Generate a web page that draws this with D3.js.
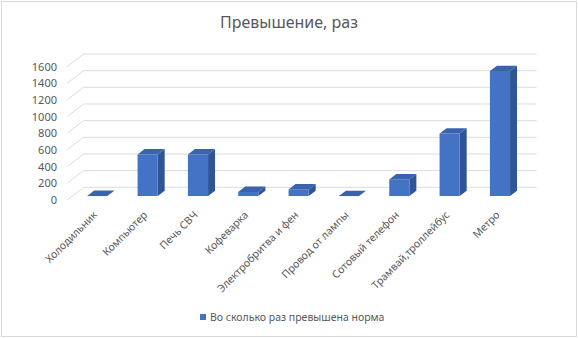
<!DOCTYPE html>
<html>
<head>
<meta charset="utf-8">
<script src="https://cdn.jsdelivr.net/npm/d3@7"></script>
<style>
  body { margin: 0; background: #fff; }
  text { font-family: "Noto Sans", "Open Sans", sans-serif; fill: #595959; }
</style>
</head>
<body>
<div id="chart"></div>
<script>
// data
const categories = ['Холодильник', 'Компьютер', 'Печь СВЧ', 'Кофеварка', 'Электробритва и фен',
    'Провод от лампы', 'Сотовый телефон', 'Трамвай,троллейбус', 'Метро'];
const values = [2, 500, 500, 50, 80, 1, 200, 750, 1500];
const yTicks = [0, 200, 400, 600, 800, 1000, 1200, 1400, 1600];
const seriesName = 'Во сколько раз превышена норма';
const title = 'Превышение, раз';

const W = 578, H = 338;

// depth vector from the front of the floor to the back wall
const depth = { dx: 16.6, dy: -12.7 };
const barFront = 0.31, barBack = 0.73;

const svg = d3.select('#chart').append('svg')
    .attr('width', W)
    .attr('height', H);

// chart border
svg.append('rect')
    .attr('x', 1.5).attr('y', 1.5)
    .attr('width', W - 3).attr('height', H - 3)
    .attr('fill', '#fff')
    .attr('stroke', '#d9d9d9');

const x = d3.scaleBand()
    .domain(categories)
    .range([67, 520])
    .paddingInner(0.6)
    .paddingOuter(0.3);

const y = d3.scaleLinear()
    .domain([0, 1600])
    .range([200, 66.7]);

// project a point (front-plane x, value, depth fraction z)
function proj(px, v, z) {
    return [px + z * depth.dx, y(v) + z * depth.dy];
}

// back wall + left wall gridlines
const grid = svg.append('g').attr('class', 'grid');
yTicks.forEach(t => {
    const a = proj(67, t, 0), b = proj(67, t, 1), c = proj(520, t, 1);
    grid.append('path')
        .attr('d', 'M' + a + 'L' + b + 'L' + c)
        .attr('fill', 'none')
        .attr('stroke', '#dcdcdc')
        .attr('stroke-width', 1);
});

// y tick labels
svg.append('g').selectAll('text')
    .data(yTicks)
    .enter().append('text')
    .attr('x', 57)
    .attr('y', d => y(d))
    .attr('dy', '0.35em')
    .attr('text-anchor', 'end')
    .style('font-size', '11px')
    .text(d => d);

// 3d bars
const bars = svg.append('g').attr('class', 'bars')
    .selectAll('g')
    .data(categories.map((c, i) => ({ key: c, value: values[i] })))
    .enter().append('g');

function poly(pts) {
    return 'M' + pts.map(p => p.join(',')).join('L') + 'Z';
}

bars.append('path') // side
    .attr('d', d => {
        const x1 = x(d.key) + x.bandwidth();
        return poly([proj(x1, 0, barFront), proj(x1, 0, barBack), proj(x1, d.value, barBack), proj(x1, d.value, barFront)]);
    })
    .attr('fill', '#2f5596');

bars.append('path') // front
    .attr('d', d => {
        const x0 = x(d.key), x1 = x0 + x.bandwidth();
        return poly([proj(x0, 0, barFront), proj(x1, 0, barFront), proj(x1, d.value, barFront), proj(x0, d.value, barFront)]);
    })
    .attr('fill', '#4472c4');

bars.append('path') // top
    .attr('d', d => {
        const x0 = x(d.key), x1 = x0 + x.bandwidth();
        return poly([proj(x0, d.value, barFront), proj(x1, d.value, barFront), proj(x1, d.value, barBack), proj(x0, d.value, barBack)]);
    })
    .attr('fill', '#3a63ad');

// x labels
svg.append('g').selectAll('text')
    .data(categories)
    .enter().append('text')
    .attr('transform', d => {
        const cx = x(d) + x.bandwidth() / 2 + 3;
        return 'translate(' + cx + ',' + 213 + ') rotate(-45)';
    })
    .attr('text-anchor', 'end')
    .attr('dy', '0.35em')
    .style('font-size', '10.5px')
    .text(d => d);

// title
svg.append('text')
    .attr('x', 289)
    .attr('y', 28)
    .attr('text-anchor', 'middle')
    .style('font-size', '16px')
    .text(title);

// legend
const legend = svg.append('g').attr('transform', 'translate(200,314)');
legend.append('rect')
    .attr('width', 6).attr('height', 6)
    .attr('fill', '#4472c4');
legend.append('text')
    .attr('x', 10)
    .attr('y', 3)
    .attr('dy', '0.35em')
    .style('font-size', '10.5px')
    .text(seriesName);
</script>
</body>
</html>
